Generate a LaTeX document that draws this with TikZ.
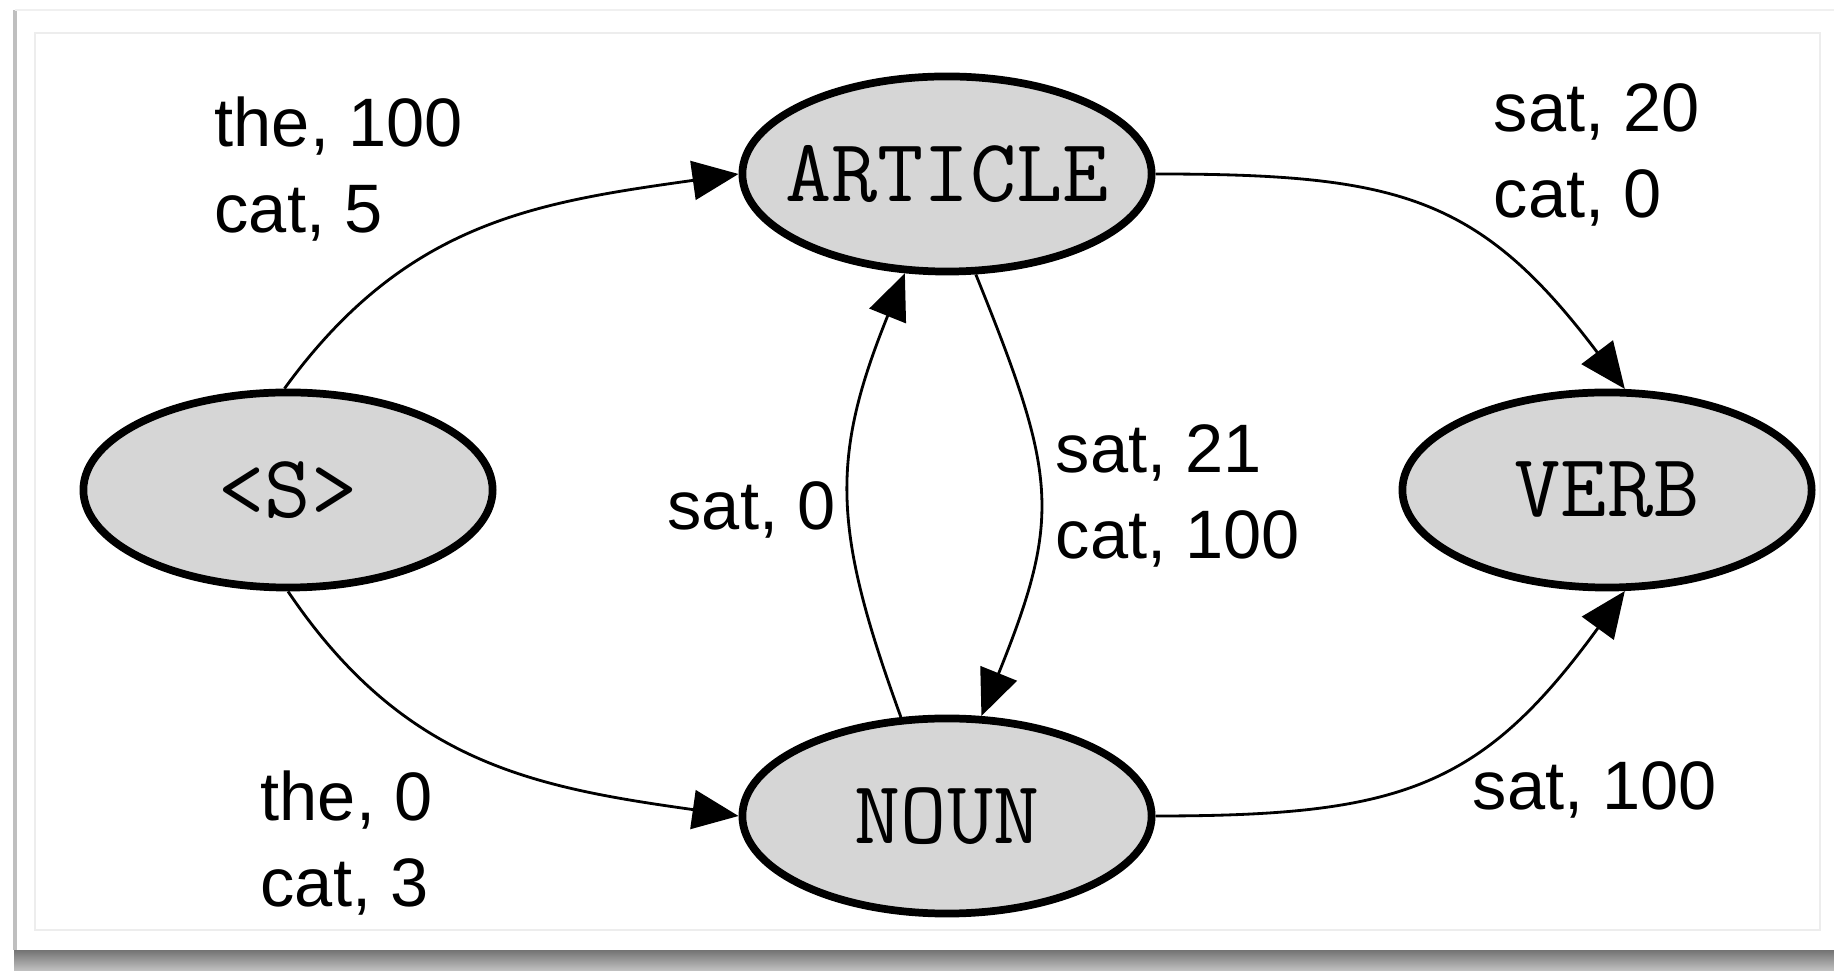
\documentclass[tikz,border=0pt]{standalone}
\usepackage{fontspec}
\setmainfont{Liberation Sans}
\usetikzlibrary{shapes.geometric,arrows.meta}
\begin{document}
\begin{tikzpicture}[x=.01cm,y=.01cm,
  tag/.style={ellipse,draw,line width=2.2pt,fill=black!16,minimum width=4.09cm,minimum height=1.95cm,inner xsep=-.5cm,font=\fontsize{25.5}{29}\ttfamily},
  hop/.style={line width=.8pt,-{Triangle[length=.46cm,width=.39cm]}},
  count/.style={align=left,inner sep=0pt,font=\fontsize{19.5}{24.5}\selectfont}]
\useasboundingbox (0,0) rectangle (1834,970);
% paper with shadow
\shade[top color=black!55,bottom color=black!25] (14,0) rectangle (1834,20);
\fill[white] (14,20) rectangle (1834,960);
\draw[black!25,line width=.9pt] (15,20)--(15,960);
\draw[black!6,line width=.6pt] (15,960)--(1834,960);
\draw[black!7,line width=.6pt] (35,40) rectangle (1820,937);
\node[tag] (s) at (288,480) {<S>};
\node[tag] (art) at (947,796) {ARTICLE};
\node[tag] (noun) at (947,154) {NOUN};
\node[tag] (verb) at (1607,480) {VERB};
\draw[hop] (s.92) to[out=54,in=188,looseness=1.05] (art.west);
\draw[hop] (s.south) to[out=-56,in=172,looseness=1.05] (noun.west);
\draw[hop] (art.east) to[out=0,in=127,looseness=1.2] (verb.80);
\draw[hop] (noun.east) to[out=0,in=-126,looseness=1.2] (verb.280);
\draw[hop] (noun.115) to[out=110,in=-112,looseness=1.15] (art.247);
\draw[hop] (art.286) to[out=-68,in=68,looseness=1.25] (noun.71);
\node[count,anchor=west] (c1) at (214,801) {the, 100\\cat, 5};
\node[count,anchor=west] (c2) at (260,127) {the, 0\\cat, 3};
\node[count,anchor=west] (c3) at (1493,815) {sat, 20\\cat, 0};
\node[count,anchor=west] (c4) at (1055,474) {sat, 21\\cat, 100};
\node[count,anchor=east] (c5) at (836,460) {sat, 0};
\node[count,anchor=west] (c6) at (1472,180) {sat, 100};
\end{tikzpicture}
\end{document}
